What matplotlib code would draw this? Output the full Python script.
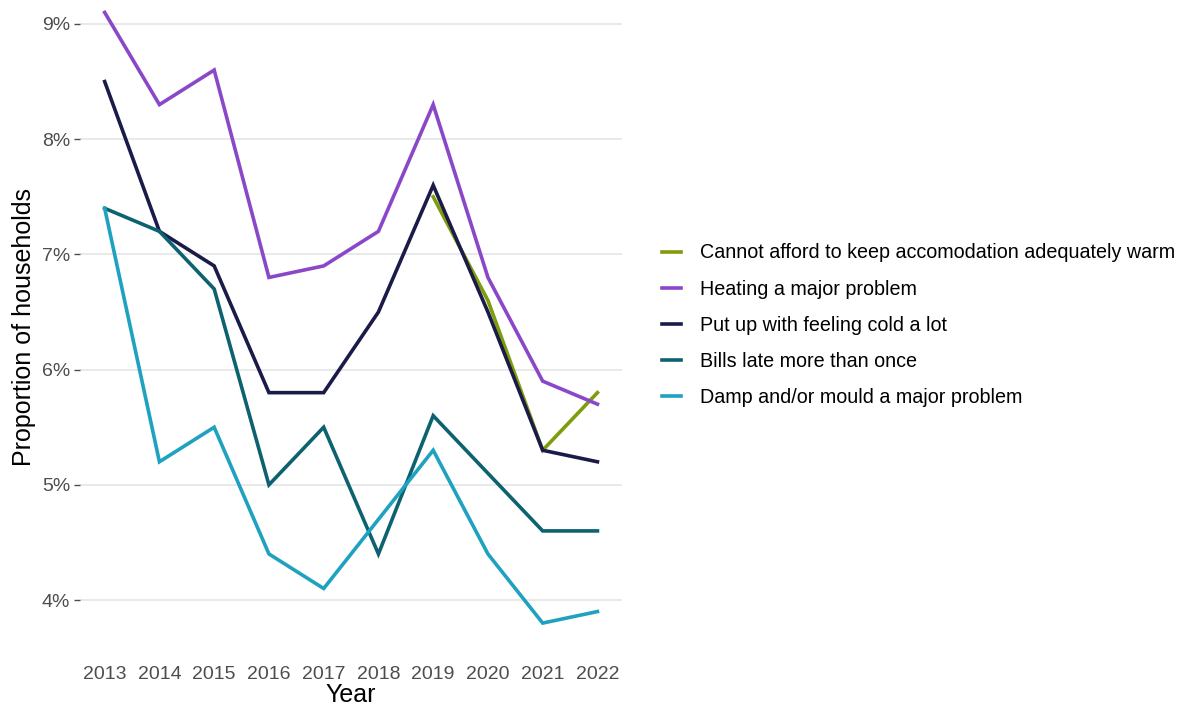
import matplotlib.pyplot as plt
import numpy as np
from matplotlib.ticker import FuncFormatter

plt.rcParams['font.family'] = ['Liberation Sans', 'DejaVu Sans']

years = [2013, 2014, 2015, 2016, 2017, 2018, 2019, 2020, 2021, 2022]

cannot_afford = [np.nan, np.nan, np.nan, np.nan, np.nan, np.nan, 7.5, 6.6, 5.3, 5.8]
heating = [9.1, 8.3, 8.6, 6.8, 6.9, 7.2, 8.3, 6.8, 5.9, 5.7]
feeling_cold = [8.5, 7.2, 6.9, 5.8, 5.8, 6.5, 7.6, 6.5, 5.3, 5.2]
bills_late = [7.4, 7.2, 6.7, 5.0, 5.5, 4.4, 5.6, 5.1, 4.6, 4.6]
damp = [7.4, 5.2, 5.5, 4.4, 4.1, 4.7, 5.3, 4.4, 3.8, 3.9]

series = [
    ("Cannot afford to keep accomodation adequately warm", cannot_afford, '#7f9c0a'),
    ("Heating a major problem", heating, '#8a48c8'),
    ("Put up with feeling cold a lot", feeling_cold, '#1b1b4a'),
    ("Bills late more than once", bills_late, '#0d6270'),
    ("Damp and/or mould a major problem", damp, '#1ea2c0'),
]

fig = plt.figure(figsize=(11.84, 7.07), dpi=100)
ax = fig.add_axes([0.0676, 0.0755, 0.4578, 0.9245])

for label, vals, col in series:
    ax.plot(years, vals, color=col, lw=2.6, label=label, solid_joinstyle='miter')

ax.set_xlim(2013 - 0.45, 2022 + 0.45)
ax.set_ylim(3.535, 9.208)
ax.set_xticks(years)
ax.set_yticks([4, 5, 6, 7, 8, 9])
ax.yaxis.set_major_formatter(FuncFormatter(lambda v, p: f"{v:.0f}%"))
ax.grid(axis='y', color='#e3e3e3', lw=1.1)
ax.grid(axis='x', visible=False)
ax.set_axisbelow(True)
for s in ax.spines.values():
    s.set_visible(False)
ax.tick_params(axis='x', length=0, labelsize=14, colors='#4d4d4d', pad=9)
ax.tick_params(axis='y', length=4, width=1, color='#4d4d4d', labelsize=14,
               labelcolor='#4d4d4d', pad=3)
ax.set_xlabel("Year", fontsize=18, labelpad=0)
ax.set_ylabel("Proportion of households", fontsize=18, labelpad=4)

fig.legend(loc='center left', bbox_to_anchor=(0.5442, 0.54), frameon=False,
           fontsize=14.2, handlelength=0.97, handletextpad=0.95, labelspacing=0.87)

fig.savefig('out.png', dpi=100)
